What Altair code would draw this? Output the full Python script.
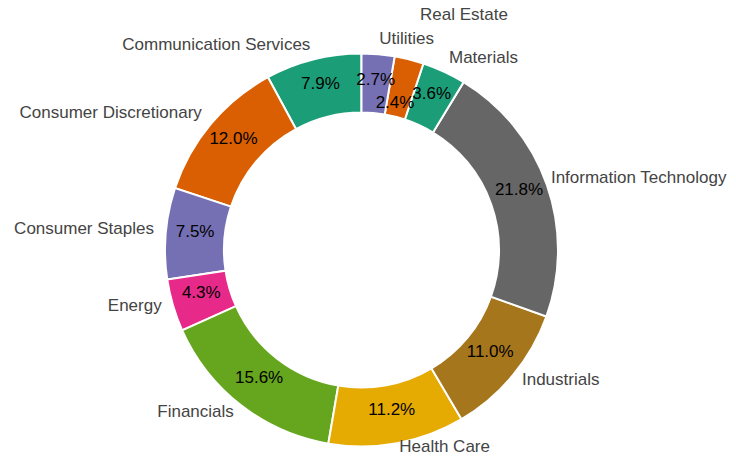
import altair as alt
import pandas as pd

sectors = [
    'Communication Services', 'Consumer Discretionary', 'Consumer Staples',
    'Energy', 'Financials', 'Health Care', 'Industrials',
    'Information Technology', 'Materials', 'Real Estate', 'Utilities',
]
weights = [7.9, 12.0, 7.5, 4.3, 15.6, 11.2, 11.0, 21.8, 3.6, 2.4, 2.7]
colors = ['#1b9e77', '#d95f02', '#7570b3', '#e7298a', '#66a61e', '#e6ab02',
          '#a6761d', '#666666', '#1b9e77', '#d95f02', '#7570b3']

df = pd.DataFrame({'sector': sectors, 'weight': weights})
df['idx'] = range(len(df))
df['pct'] = df['weight'].map(lambda v: f'{v:.1f}%')
# slices run counter-clockwise from the top (vega goes clockwise, so flip)
total = df['weight'].sum()
ccw_mid = df['weight'].cumsum() - df['weight'] / 2
df['mid'] = total - ccw_mid
df['side'] = ['left' if m < total / 2 else 'right' for m in ccw_mid]

cx, cy = 353.5, 242
r_out = 196.5
font = 'Liberation Sans'
theta_scale = alt.Scale(domain=[0, total])

ring = alt.Chart(df).mark_arc(
    radius=r_out, radius2=r_out * 0.7, stroke='white', strokeWidth=2
).encode(
    theta=alt.Theta('weight:Q', stack=True, scale=theta_scale),
    order=alt.Order('idx:Q', sort='descending'),
    color=alt.Color('sector:N', scale=alt.Scale(domain=sectors, range=colors), legend=None),
    x=alt.value(cx),
    y=alt.value(cy),
)

txt = alt.Chart(df).encode(
    theta=alt.Theta('mid:Q', stack=None, scale=theta_scale),
    x=alt.value(cx),
    y=alt.value(cy),
)

pct_main = txt.transform_filter(alt.datum.sector != 'Real Estate').mark_text(
    radius=r_out * 0.85, font=font, fontSize=17, color='black', dy=-4
).encode(text='pct:N')

pct_moved = txt.transform_filter(alt.datum.sector == 'Real Estate').mark_text(
    radius=r_out * 0.85, font=font, fontSize=17, color='black', dx=-7, dy=15
).encode(text='pct:N')

lab_left = txt.transform_filter(alt.datum.side == 'left').mark_text(
    radius=r_out * 1.06, font=font, fontSize=17, color='#444444', align='right', dy=-3
).encode(text='sector:N')

# a few labels were nudged in the original, drawn separately
lab_right = txt.transform_filter(
    (alt.datum.side == 'right')
    & (alt.datum.sector != 'Real Estate')
    & (alt.datum.sector != 'Health Care')
    & (alt.datum.sector != 'Information Technology')
).mark_text(
    radius=r_out * 1.06, font=font, fontSize=17, color='#444444', align='left', dy=-3
).encode(text='sector:N')

lab_re = txt.transform_filter(alt.datum.sector == 'Real Estate').mark_text(
    radius=r_out * 1.06, font=font, fontSize=17, color='#444444', align='left', dx=8, dy=-33
).encode(text='sector:N')

lab_hc = txt.transform_filter(alt.datum.sector == 'Health Care').mark_text(
    radius=r_out * 1.06, font=font, fontSize=17, color='#444444', align='left', dy=-8
).encode(text='sector:N')

lab_it = txt.transform_filter(alt.datum.sector == 'Information Technology').mark_text(
    radius=r_out * 1.06, font=font, fontSize=17, color='#444444', align='left', dx=-7, dy=-3
).encode(text='sector:N')

chart = alt.layer(ring, pct_main, pct_moved, lab_left, lab_right, lab_re, lab_hc, lab_it).properties(
    width=720, height=445, padding=0, autosize='none'
).configure_view(stroke=None)

chart.save("out.html", embed_options={"renderer": "svg", "actions": False})
